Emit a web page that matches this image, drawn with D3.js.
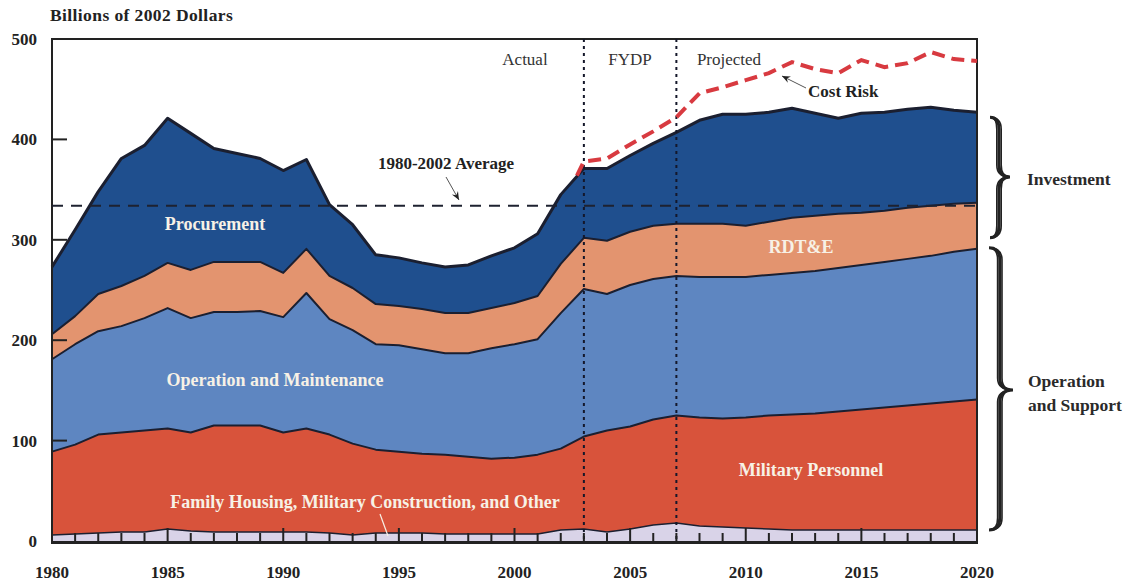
<!DOCTYPE html>
<html>
<head>
<meta charset="utf-8">
<script src="https://cdn.jsdelivr.net/npm/d3@7/dist/d3.min.js"></script>
<style>
  body { margin: 0; background: #fff; }
  text { font-family: "Liberation Serif", "Times New Roman", serif; }
</style>
</head>
<body>
<div class="chartBox"></div>
<script>
// fiscal years on the x axis
var years = [1980, 1981, 1982, 1983, 1984, 1985, 1986, 1987, 1988, 1989,
             1990, 1991, 1992, 1993, 1994, 1995, 1996, 1997, 1998, 1999,
             2000, 2001, 2002, 2003, 2004, 2005, 2006, 2007, 2008, 2009,
             2010, 2011, 2012, 2013, 2014, 2015, 2016, 2017, 2018, 2019, 2020];

// billions of 2002 dollars, by category (bottom to top)
var familyHousing = [6, 7, 8, 9, 9, 12, 10, 9, 9, 9,
                     9, 9, 8, 6, 8, 8, 8, 7, 7, 7,
                     7, 7, 11, 12, 9, 12, 16, 18, 15, 14,
                     13, 12, 11, 11, 11, 11, 11, 11, 11, 11, 11];
var militaryPersonnel = [83, 89, 98, 99, 101, 100, 98, 106, 106, 106,
                         99, 103, 98, 91, 83, 81, 79, 79, 77, 75,
                         76, 79, 81, 92, 101, 102, 105, 107, 108, 108,
                         110, 113, 115, 116, 118, 120, 122, 124, 126, 128, 130];
var operationMaint = [92, 100, 103, 106, 112, 120, 114, 113, 113, 114,
                      115, 135, 115, 113, 105, 106, 104, 101, 103, 110,
                      113, 115, 135, 147, 136, 141, 140, 139, 140, 141,
                      140, 140, 141, 142, 143, 144, 145, 146, 147, 149, 150];
var rdte = [25, 28, 37, 40, 42, 45, 48, 50, 50, 49,
            44, 44, 43, 42, 40, 39, 40, 40, 40, 40,
            41, 43, 49, 51, 53, 53, 53, 52, 53, 53,
            51, 53, 55, 55, 54, 52, 51, 51, 50, 48, 46];
var procurement = [67, 86, 102, 127, 130, 144, 136, 113, 108, 103,
                   102, 89, 71, 63, 49, 48, 46, 46, 48, 52,
                   55, 62, 69, 69, 72, 76, 82, 91, 103, 109,
                   111, 109, 109, 102, 95, 99, 98, 98, 98, 93, 90];

// cost risk line (total with risk), starts just before 2003
var costRiskYears = [2002.7, 2003, 2004, 2005, 2006, 2007, 2008, 2009, 2010, 2011,
                     2012, 2013, 2014, 2015, 2016, 2017, 2018, 2019, 2020];
var costRisk = [364, 378, 381, 395, 408, 422, 446, 452, 459, 466,
                477, 470, 466, 479, 472, 476, 487, 480, 478];

var average = 334;          // 1980-2002 average
var periodBreaks = [2003, 2007];
var yTicks = [0, 100, 200, 300, 400, 500];
var xLabels = [1980, 1985, 1990, 1995, 2000, 2005, 2010, 2015, 2020];

var keys = ['fh', 'mp', 'om', 'rdte', 'proc'];
var colors = { fh: '#d9d3e8', mp: '#d8533b', om: '#5e86c1', rdte: '#e3946f', proc: '#1f4f8e' };

var margin = { top: 39, right: 156, bottom: 41, left: 52 };
var W = 1133, H = 582;
var w = W - margin.left - margin.right,
    h = H - margin.top - margin.bottom;

var rows = years.map(function(yr, i) {
  return { year: yr, fh: familyHousing[i], mp: militaryPersonnel[i],
           om: operationMaint[i], rdte: rdte[i], proc: procurement[i] };
});

var series = d3.stack().keys(keys)(rows);

var x = d3.scaleLinear().domain([1980, 2020]).range([margin.left, margin.left + w]);
var y = d3.scaleLinear().domain([0, 500]).range([margin.top + h, margin.top]);

var svg = d3.select('div.chartBox')
  .append('svg')
  .attr('width', W)
  .attr('height', H);

var area = d3.area()
  .x(function(d) { return x(d.data.year) })
  .y0(function(d) { return y(d[0]) })
  .y1(function(d) { return y(d[1]) });

svg.selectAll('path.layer')
  .data(series)
  .enter()
  .append('path')
  .attr('class', 'layer')
  .attr('fill', function(d) { return colors[d.key] })
  .attr('d', area);

// boundary lines on top of each layer
var edge = d3.line()
  .x(function(d) { return x(d.data.year) })
  .y(function(d) { return y(d[1]) });

svg.selectAll('path.edge')
  .data(series)
  .enter()
  .append('path')
  .attr('class', 'edge')
  .attr('fill', 'none')
  .attr('stroke', '#1b1f30')
  .attr('stroke-width', function(d) { return d.key == 'proc' ? 3 : (d.key == 'fh' ? 1.5 : 2) })
  .attr('stroke-linejoin', 'round')
  .attr('d', edge);

// frame
var x0 = x(1980), x1 = x(2020), yTop = y(500), yBot = y(0);
svg.append('path')
  .attr('d', 'M' + x0 + ',' + (yBot + 2) + 'V' + yTop + 'H' + x1 + 'V' + (yBot + 2))
  .attr('fill', 'none')
  .attr('stroke', '#222')
  .attr('stroke-width', 2);

// average line
svg.append('line')
  .attr('x1', x0).attr('x2', x1 + 4)
  .attr('y1', y(average)).attr('y2', y(average))
  .attr('stroke', '#1e2230')
  .attr('stroke-width', 2)
  .attr('stroke-dasharray', '11,8');

// period dividers
svg.selectAll('line.period')
  .data(periodBreaks)
  .enter()
  .append('line')
  .attr('class', 'period')
  .attr('x1', function(d) { return x(d) })
  .attr('x2', function(d) { return x(d) })
  .attr('y1', yTop).attr('y2', yBot)
  .attr('stroke', '#14172a')
  .attr('stroke-width', 2)
  .attr('stroke-dasharray', '3,4');

// cost risk
var riskLine = d3.line()
  .x(function(d, i) { return x(costRiskYears[i]) })
  .y(function(d) { return y(d) });

svg.append('path')
  .attr('d', riskLine(costRisk))
  .attr('fill', 'none')
  .attr('stroke', '#d83a40')
  .attr('stroke-width', 4)
  .attr('stroke-dasharray', '13,7');

// bottom axis: thick base line and ticks pointing up
svg.append('line')
  .attr('x1', x0 - 1).attr('x2', x1 + 1)
  .attr('y1', yBot + 1.5).attr('y2', yBot + 1.5)
  .attr('stroke', '#222').attr('stroke-width', 3);

svg.selectAll('line.xtick')
  .data(years)
  .enter()
  .append('line')
  .attr('class', 'xtick')
  .attr('x1', function(d) { return x(d) })
  .attr('x2', function(d) { return x(d) })
  .attr('y1', yBot)
  .attr('y2', function(d) { return yBot - (d % 5 == 0 ? 13 : 8) })
  .attr('stroke', '#222')
  .attr('stroke-width', 2);

svg.selectAll('text.xlab')
  .data(xLabels)
  .enter()
  .append('text')
  .attr('class', 'xlab')
  .attr('x', function(d) { return x(d) })
  .attr('y', 578)
  .attr('text-anchor', 'middle')
  .attr('font-size', 17)
  .attr('font-weight', 'bold')
  .attr('fill', '#222')
  .text(function(d) { return d });

// y ticks
svg.selectAll('line.ytick')
  .data(yTicks.filter(function(d) { return d > 0 && d < 500 }))
  .enter()
  .append('line')
  .attr('class', 'ytick')
  .attr('x1', x0).attr('x2', x0 + 15)
  .attr('y1', function(d) { return y(d) })
  .attr('y2', function(d) { return y(d) })
  .attr('stroke', '#222')
  .attr('stroke-width', 2);

svg.selectAll('text.ylab')
  .data(yTicks)
  .enter()
  .append('text')
  .attr('class', 'ylab')
  .attr('x', 37)
  .attr('y', function(d) { return y(d) + 6 })
  .attr('text-anchor', 'end')
  .attr('font-size', 17)
  .attr('font-weight', 'bold')
  .attr('fill', '#222')
  .text(function(d) { return d });

svg.append('text')
  .attr('x', 50).attr('y', 21)
  .attr('font-size', 17.5)
  .attr('font-weight', 'bold')
  .attr('letter-spacing', 0.4)
  .attr('fill', '#222')
  .text('Billions of 2002 Dollars');

// layer labels
var layerLabels = [
  { t: 'Procurement', x: 215, y: 230 },
  { t: 'RDT&E', x: 801, y: 253 },
  { t: 'Operation and Maintenance', x: 275, y: 386 },
  { t: 'Military Personnel', x: 811, y: 476 },
  { t: 'Family Housing, Military Construction, and Other', x: 365, y: 508 }
];
svg.selectAll('text.layerlab')
  .data(layerLabels)
  .enter()
  .append('text')
  .attr('class', 'layerlab')
  .attr('x', function(d) { return d.x })
  .attr('y', function(d) { return d.y })
  .attr('text-anchor', 'middle')
  .attr('font-size', 18)
  .attr('font-weight', 'bold')
  .attr('fill', '#f7f1e6')
  .text(function(d) { return d.t });

svg.append('line')
  .attr('x1', 380).attr('y1', 514)
  .attr('x2', 388).attr('y2', 536)
  .attr('stroke', '#f7f1e6').attr('stroke-width', 1.2);

// period names
var periodNames = [
  { t: 'Actual', x: 525 },
  { t: 'FYDP', x: 630 },
  { t: 'Projected', x: 729 }
];
svg.selectAll('text.period')
  .data(periodNames)
  .enter()
  .append('text')
  .attr('x', function(d) { return d.x })
  .attr('y', 65)
  .attr('text-anchor', 'middle')
  .attr('font-size', 17)
  .attr('fill', '#333')
  .text(function(d) { return d.t });

// annotations with arrows
function arrow(xa, ya, xb, yb) {
  svg.append('line')
    .attr('x1', xa).attr('y1', ya).attr('x2', xb).attr('y2', yb)
    .attr('stroke', '#555').attr('stroke-width', 1);
  var ang = Math.atan2(yb - ya, xb - xa), L = 9, s = 0.4;
  var p = [[xb, yb],
           [xb - L * Math.cos(ang - s), yb - L * Math.sin(ang - s)],
           [xb - L * 0.6 * Math.cos(ang), yb - L * 0.6 * Math.sin(ang)],
           [xb - L * Math.cos(ang + s), yb - L * Math.sin(ang + s)]];
  svg.append('path')
    .attr('d', 'M' + p.join('L') + 'Z')
    .attr('fill', '#222');
}

svg.append('text')
  .attr('x', 446).attr('y', 169)
  .attr('text-anchor', 'middle')
  .attr('font-size', 17)
  .attr('font-weight', 'bold')
  .attr('fill', '#222')
  .text('1980-2002 Average');
arrow(446, 177, 459, 200);

svg.append('text')
  .attr('x', 808).attr('y', 97)
  .attr('font-size', 17)
  .attr('font-weight', 'bold')
  .attr('fill', '#222')
  .text('Cost Risk');
arrow(806, 88, 782, 76);

// braces on the right (calligraphic: filled, thicker at the middle)
function brace(xb, ya, yb, ym, wd) {
  var xm = xb + wd * 0.45, r = 12, t = 2.2;
  function side(off) {
    return 'M' + xb + ',' + ya +
      'Q' + (xm + off) + ',' + ya + ' ' + (xm + off) + ',' + (ya + r) +
      'L' + (xm + off) + ',' + (ym - r) +
      'Q' + (xm + off) + ',' + ym + ' ' + (xb + wd) + ',' + ym +
      'Q' + (xm + off) + ',' + ym + ' ' + (xm + off) + ',' + (ym + r) +
      'L' + (xm + off) + ',' + (yb - r) +
      'Q' + (xm + off) + ',' + yb + ' ' + xb + ',' + yb;
  }
  svg.append('path')
    .attr('d', side(-t) + side(t).replace('M', 'M'))
    .attr('fill', 'none')
    .attr('stroke', '#222')
    .attr('stroke-width', 1.6);
  svg.append('path')
    .attr('d', side(0))
    .attr('fill', 'none')
    .attr('stroke', '#222')
    .attr('stroke-width', 3);
}
var last = years.length - 1;
var omTop2020 = familyHousing[last] + militaryPersonnel[last] + operationMaint[last];
var total2020 = omTop2020 + rdte[last] + procurement[last];
brace(990, y(total2020) + 5, y(omTop2020) - 11, 177, 20);
brace(989, y(omTop2020) - 1, y(0) - 11, 390, 24);

svg.append('text')
  .attr('x', 1027).attr('y', 185)
  .attr('font-size', 17.5)
  .attr('font-weight', 'bold')
  .attr('fill', '#2a2a2a')
  .text('Investment');

svg.append('text')
  .attr('x', 1028).attr('y', 387)
  .attr('font-size', 17.5)
  .attr('font-weight', 'bold')
  .attr('fill', '#2a2a2a')
  .text('Operation');
svg.append('text')
  .attr('x', 1028).attr('y', 411)
  .attr('font-size', 17.5)
  .attr('font-weight', 'bold')
  .attr('fill', '#2a2a2a')
  .text('and Support');
</script>
</body>
</html>
